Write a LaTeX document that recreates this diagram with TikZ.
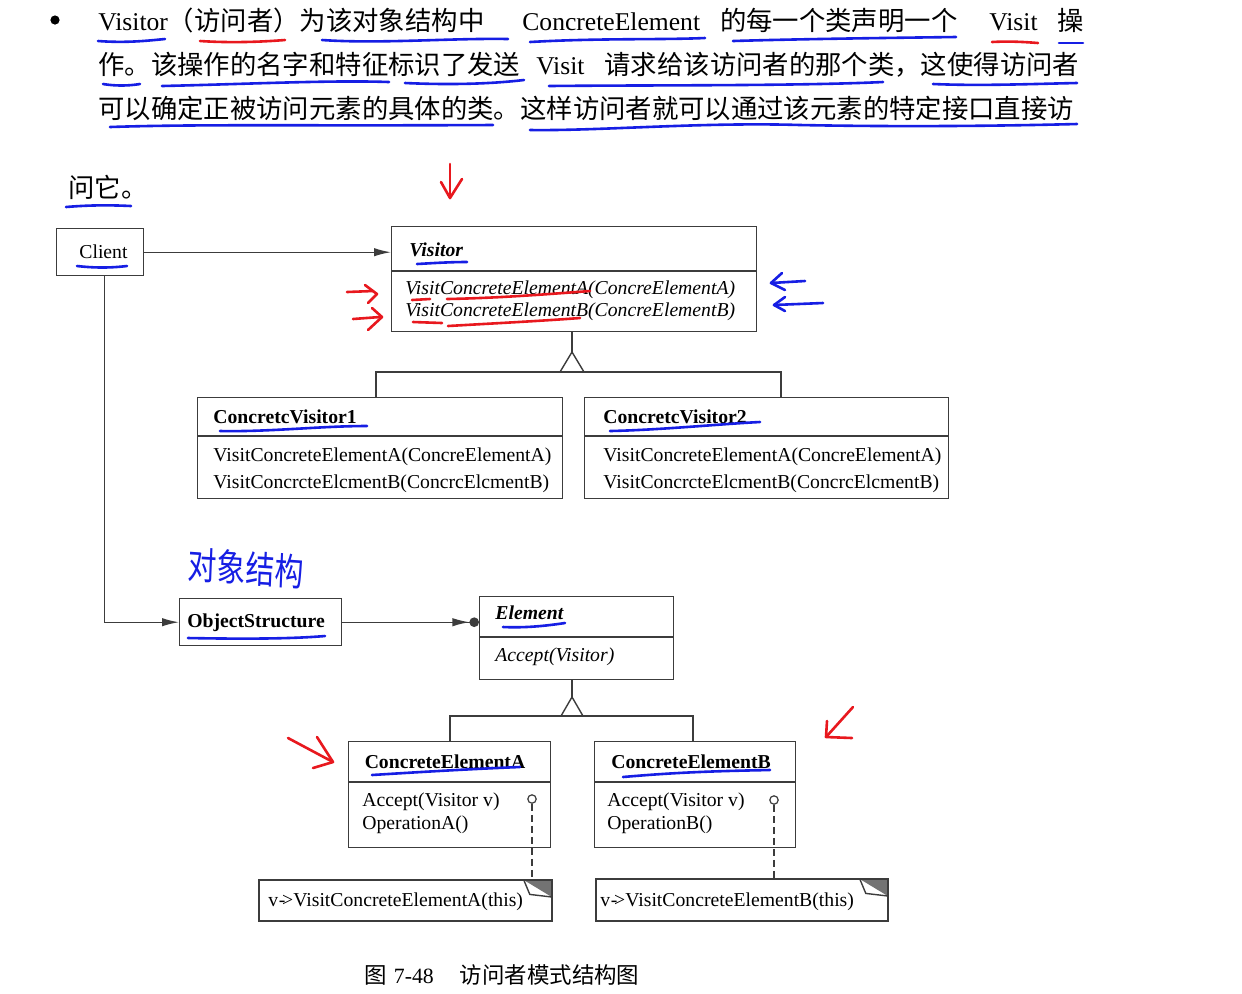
\documentclass[tikz,border=0pt]{standalone}
\usepackage{fontspec}
\setmainfont{Liberation Serif}
\newfontfamily\cjk[Scale=1.03]{Noto Sans CJK SC}
\usetikzlibrary{arrows.meta}
\definecolor{inkblue}{RGB}{22,30,228}
\definecolor{inkred}{RGB}{232,24,30}
\definecolor{lncol}{RGB}{60,60,60}
\begin{document}
\begin{tikzpicture}[x=0.5pt,y=-0.5pt,
  ln/.style={draw=lncol, line width=0.7pt},
  box/.style={ln, inner sep=0pt, anchor=north west},
  txt/.style={inner sep=0pt, anchor=base west, font=\fontsize{9.85pt}{12pt}\selectfont},
  ttl/.style={txt, font=\fontsize{9.85pt}{12pt}\selectfont\bfseries},
  ttli/.style={txt, font=\fontsize{9.85pt}{12pt}\selectfont\bfseries\itshape},
  mthi/.style={txt, font=\fontsize{9.85pt}{12pt}\selectfont\itshape},
  toptxt/.style={inner sep=0pt, anchor=base west, font=\fontsize{12.8pt}{15pt}\selectfont},
  lolli/.style={circle, draw=lncol, line width=0.6pt, minimum size=4.2pt, inner sep=0pt, fill=white},
  tipA/.style={-{Latex[length=8.5pt,width=4.2pt]}},
  ann/.style={line width=1.3pt, line cap=round, line join=round},
  ub/.style={ann, draw=inkblue},
  ur/.style={ann, draw=inkred}
]
\useasboundingbox (0,0) rectangle (1242,993);
\fill[white] (0,0) rectangle (1242,993);

% ---------- top paragraph ----------
\fill[black] (55,20) circle[radius=2.3pt];
\node[toptxt] (l1) at (98,30) {Visitor{\cjk（访问者）为该对象结构中}\hspace{19pt}ConcreteElement\hspace{10pt}{\cjk 的每一个类声明一个}\hspace{16pt}Visit\hspace{10pt}{\cjk 操}};
\node[toptxt] (l2) at (98,74) {{\cjk 作。该操作的名字和特征标识了发送}\hspace{8pt}Visit\hspace{10pt}{\cjk 请求给该访问者的那个类，这使得访问者}};
\node[toptxt] (l3) at (98,118) {{\cjk 可以确定正被访问元素的具体的类。这样访问者就可以通过该元素的特定接口直接访}};
\node[toptxt] (l4) at (68,197) {{\cjk 问它。}};

% underlines of paragraph
\draw[ub] (98,41) .. controls (125,43) and (145,41) .. (165,39);
\draw[ur] (200,41) .. controls (230,43) and (260,42) .. (285,40);
\draw[ub] (322,40) .. controls (380,44) and (450,38) .. (508,39);
\draw[ub] (530,42) .. controls (600,38) and (660,40) .. (705,38);
\draw[ub] (733,41) .. controls (800,39) and (880,38) .. (956,37);
\draw[ur] (992,42) .. controls (1010,41) and (1025,42) .. (1038,43);
\draw[ub] (1059,43) -- (1083,43);
\draw[ub] (103,84) .. controls (115,86) and (128,86) .. (140,84);
\draw[ub] (162,86) .. controls (250,84) and (330,80) .. (389,82);
\draw[ub] (405,83) .. controls (450,85) and (490,84) .. (524,80);
\draw[ub] (549,86) .. controls (650,85) and (800,86) .. (883,82);
\draw[ub] (933,84) .. controls (980,86) and (1030,84) .. (1077,83);
\draw[ub] (110,127) .. controls (200,124) and (300,126) .. (493,125);
\draw[ub] (530,130) .. controls (600,131) and (700,122) .. (800,125) .. controls (900,127) and (1000,126) .. (1077,124);
\draw[ub] (66,207) .. controls (90,205) and (110,205) .. (131,206);

% red arrow on top
\draw[ur] (450,164) -- (450,198);
\draw[ur] (441,182) -- (450,198) -- (462,179);

% ---------- boxes ----------
\node[box, minimum width=43.5pt, minimum height=23.5pt] (client) at (56,228) {};
\node[txt] (clientT) at (79,258) {Client};

\node[box, minimum width=182.5pt, minimum height=52.5pt] (visitor) at (391,226) {};
\draw[ln] (391,271) -- (756,271);
\node[ttli] (visitorT) at (409,256) {Visitor};
\node[mthi] (visitorM1) at (405,294) {VisitConcreteElementA(ConcreElementA)};
\node[mthi] (visitorM2) at (405,316) {VisitConcreteElementB(ConcreElementB)};

\node[box, minimum width=182.5pt, minimum height=50.5pt] (cv1) at (197,397) {};
\draw[ln] (197,436) -- (562,436);
\node[ttl] (cv1T) at (213,423) {ConcretcVisitor1};
\node[txt] (cv1M1) at (213,461) {VisitConcreteElementA(ConcreElementA)};
\node[txt] (cv1M2) at (213,488) {VisitConcrcteElcmentB(ConcrcElcmentB)};

\node[box, minimum width=182pt, minimum height=50.5pt] (cv2) at (584,397) {};
\draw[ln] (584,436) -- (948,436);
\node[ttl] (cv2T) at (603,423) {ConcretcVisitor2};
\node[txt] (cv2M1) at (603,461) {VisitConcreteElementA(ConcreElementA)};
\node[txt] (cv2M2) at (603,488) {VisitConcrcteElcmentB(ConcrcElcmentB)};

\node[box, minimum width=81pt, minimum height=23.5pt] (objs) at (179,598) {};
\node[ttl, anchor=base] (objsT) at (256,627) {ObjectStructure};

\node[box, minimum width=97pt, minimum height=41.5pt] (element) at (479,596) {};
\draw[ln] (479,637) -- (673,637);
\node[ttli] (elementT) at (495,619) {Element};
\node[mthi] (elementM) at (495,661) {Accept(Visitor)};

\node[box, minimum width=101pt, minimum height=53pt] (cea) at (348,741) {};
\draw[ln] (348,782) -- (550,782);
\node[ttl, anchor=base] (ceaT) at (445,768) {ConcreteElementA};
\node[txt] (ceaM1) at (362,806) {Accept(Visitor v)};
\node[txt] (ceaM2) at (362,829) {OperationA()};
\node[lolli] (pa) at (532,799) {};

\node[box, minimum width=100.5pt, minimum height=53pt] (ceb) at (594,741) {};
\draw[ln] (594,782) -- (795,782);
\node[ttl, anchor=base] (cebT) at (691,768) {ConcreteElementB};
\node[txt] (cebM1) at (607,806) {Accept(Visitor v)};
\node[txt] (cebM2) at (607,829) {OperationB()};
\node[lolli] (pb) at (774,800) {};

% notes
\node[inner sep=0pt, minimum width=146pt, minimum height=20pt, anchor=north west] (notea) at (259,880) {};
\node[inner sep=0pt, minimum width=145.5pt, minimum height=20.5pt, anchor=north west] (noteb) at (596,879) {};
\foreach \n in {notea,noteb}{
  \fill[black!55] ([xshift=-14pt]\n.north east) -- (\n.north east) -- ([yshift=-8.5pt]\n.north east) -- cycle;
  \draw[ln] (\n.north west) -- (\n.north east) -- (\n.south east) -- (\n.south west) -- cycle;
  \draw[ln] ([xshift=-14pt]\n.north east) -- ([xshift=-11pt,yshift=-7.2pt]\n.north east) -- ([yshift=-8.5pt]\n.north east);
}
\node[txt] (noteaT) at (268,906) {v\kern0.3pt-\kern-1.6pt>VisitConcreteElementA(this)};
\node[txt] (notebT) at (600,906) {v\kern0.3pt-\kern-1.6pt>VisitConcreteElementB(this)};
\draw[ln, dash pattern=on 3.5pt off 2pt] (pa.south) -- (pa.south |- notea.north);
\draw[ln, dash pattern=on 3.5pt off 2pt] (pb.south) -- (pb.south |- noteb.north);

% ---------- connectors ----------
\draw[ln, tipA] (client.east) -- (client.east -| visitor.west);
\draw[ln, tipA] ([xshift=2pt]client.south) |- (objs.west);
\draw[ln, -{Latex[length=8.5pt,width=4.2pt] Circle[length=4.8pt]}] (objs.east) -- (objs.east -| element.west);

% inheritance Visitor
\coordinate (tv) at (572,352);
\coordinate (h1) at (376,372);
\coordinate (h2) at (781,372);
\draw[ln] (tv |- visitor.south) -- (tv);
\draw[ln] ([xshift=-6pt,yshift=-10pt]tv) -- (tv) -- ([xshift=6pt,yshift=-10pt]tv);
\draw[ln] (h1 |- cv1.north) -- (h1) -- (h2) -- (h2 |- cv2.north);

% inheritance Element
\coordinate (te) at (572,697);
\coordinate (k1) at (450,716);
\coordinate (k2) at (693,716);
\draw[ln] (te |- element.south) -- (te);
\draw[ln] ([xshift=-5.5pt,yshift=-9.5pt]te) -- (te) -- ([xshift=5.5pt,yshift=-9.5pt]te);
\draw[ln] (k1 |- cea.north) -- (k1) -- (k2) -- (k2 |- ceb.north);

% ---------- annotations in boxes ----------
\draw[ub] (77,266) .. controls (95,268) and (110,268) .. (127,266);
\draw[ub] (417,264) .. controls (435,263) and (450,262) .. (467,262);
\draw[ur] (412,300) -- (430,299);
\draw[ur] (447,299) .. controls (500,298) and (550,294) .. (590,291);
\draw[ur] (413,322) -- (442,323);
\draw[ur] (448,326) .. controls (500,323) and (540,321) .. (580,318);
\draw[ub] (220,431) .. controls (270,432) and (320,426) .. (367,426);
\draw[ub] (610,431) .. controls (660,430) and (720,424) .. (760,422);
\draw[ub] (188,638) .. controls (240,639) and (290,639) .. (325,636);
\draw[ub] (503,627) .. controls (525,628) and (545,626) .. (565,623);
\draw[ub] (372,775) .. controls (420,772) and (470,769) .. (520,767);
\draw[ub] (623,777) .. controls (680,772) and (720,771) .. (770,770);

% arrows beside Visitor
\draw[ur] (347,292) -- (373,291);
\draw[ur] (365,285) -- (377,294) -- (368,303);
\draw[ur] (353,319) -- (380,317);
\draw[ur] (372,308) -- (382,317) -- (368,330);
\draw[ub] (805,281) -- (771,283);
\draw[ub] (782,273) -- (771,283) -- (785,290);
\draw[ub] (823,303) -- (774,305);
\draw[ub] (785,297) -- (774,305) -- (785,311);

% arrows near elements
\draw[ur] (288,738) -- (333,762);
\draw[ur] (317,737) -- (333,762) -- (313,768);
\draw[ur] (853,707) -- (826,737);
\draw[ur] (827,721) -- (826,737) -- (852,738);

% handwritten note
\node[text=inkblue, inner sep=0pt, font=\fontsize{14pt}{16pt}\selectfont\cjk, yscale=1.3, rotate=-3] (hw) at (246,568) {对象结构};

% caption
\node[inner sep=0pt, anchor=base west, font=\fontsize{10.9pt}{13pt}\selectfont] (cap) at (364,983) {{\cjk 图}\hspace{3.5pt}7-48\hspace{13pt}{\cjk 访问者模式结构图}};
\end{tikzpicture}
\end{document}
